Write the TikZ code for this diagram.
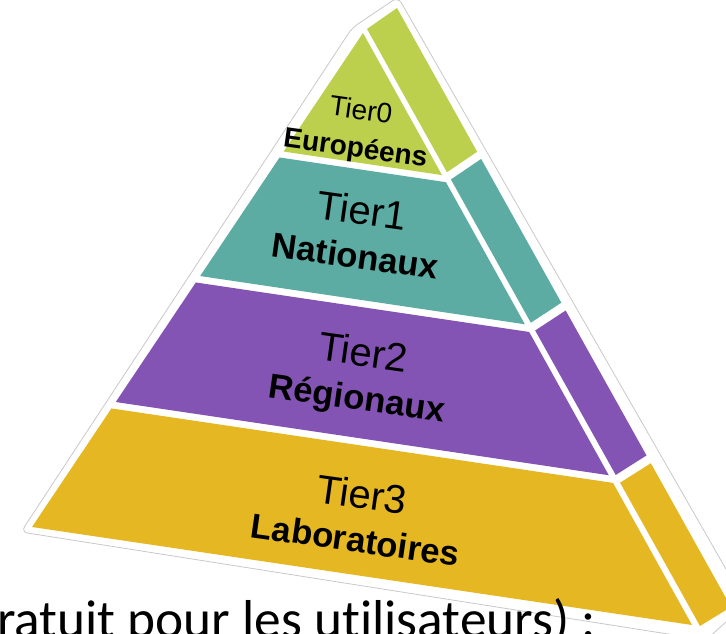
\documentclass[tikz,border=0pt]{standalone}
\usepackage{fontspec}
\setmainfont{Liberation Sans}
\newfontfamily\notefont{Carlito}[Ligatures={NoCommon,NoRare,NoContextual}]
\usepackage{tikz}
\usetikzlibrary{calc}
\definecolor{euro}{HTML}{BCD04E}
\definecolor{natio}{HTML}{5CACA3}
\definecolor{regio}{HTML}{8454B4}
\definecolor{labo}{HTML}{E4B723}
\definecolor{rim}{HTML}{C8C8C8}
\tikzset{
  rimline/.style={draw=rim, line width=0.6pt, rounded corners=5pt},
  tier/.style={text=black, align=center, rotate=-8, inner sep=0pt, font=\fontsize{30}{33}\selectfont},
  toptier/.style={tier, font=\fontsize{21}{28.5}\selectfont},
  note/.style={text=black, anchor=base west, inner sep=0pt, font=\notefont\fontsize{40}{44}\selectfont}
}

\begin{document}
\begin{tikzpicture}[x=0.75pt, y=-0.75pt]
  \clip (0,0) rectangle (726,634);
  % front face
  \coordinate (A) at (363,33);
  \coordinate (L) at (32,527);
  \coordinate (R) at (692,625);
  % side face
  \coordinate (S0) at (367,29);
  \coordinate (S1) at (700,626);
  \coordinate (T0) at (397,8);
  \coordinate (T1) at (731,607);

  \draw[rimline] (21,532) -- (352,28) -- (398,-3) -- (746,604) -- (706,640) -- cycle;

  \foreach \ta/\tb/\col in {0/0.240/euro, 0.252/0.492/natio, 0.505/0.747/regio, 0.760/1/labo}{
    \fill[\col] ($(A)!\ta!(L)$) -- ($(A)!\tb!(L)$) -- ($(A)!\tb!(R)$) -- ($(A)!\ta!(R)$) -- cycle;
    \fill[\col] ($(S0)!\ta!(S1)$) -- ($(S0)!\tb!(S1)$) -- ($(T0)!\tb!(T1)$) -- ($(T0)!\ta!(T1)$) -- cycle;
  }

  \node[toptier] (tier0) at (358,131) {Tier0\\\bfseries Européens};
  \node[tier] (tier1) at (359,232) {Tier1\\\fontsize{26}{33}\selectfont\bfseries Nationaux};
  \node[tier] (tier2) at (360,377) {Tier2\\\fontsize{26}{33}\selectfont\bfseries Régionaux};
  \node[tier] (tier3) at (359,516) {Tier3\\\fontsize{26}{33}\selectfont\bfseries Laboratoires};

  \node[note] (cost) at (-3,638) {ratuit pour les utilisateurs) :};
\end{tikzpicture}
\end{document}
